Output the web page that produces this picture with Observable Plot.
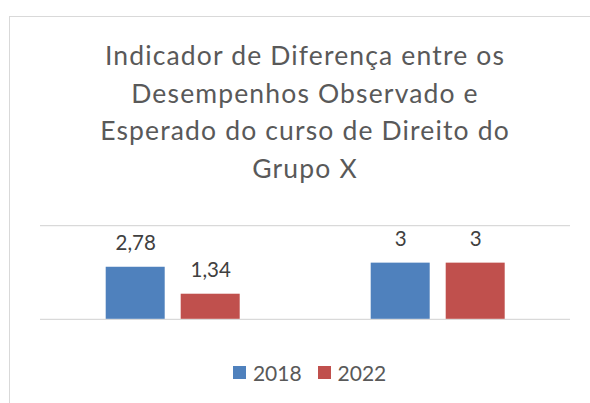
<!DOCTYPE html>
<html>
<head>
<meta charset="utf-8">
<script src="https://cdn.jsdelivr.net/npm/d3@7"></script>
<script src="https://cdn.jsdelivr.net/npm/@observablehq/plot@0.6"></script>
<style>
  html, body { margin: 0; padding: 0; background: #fff; width: 590px; height: 403px; overflow: hidden; position: relative; }
  #frame { position: absolute; left: 9px; top: 16px; width: 640px; height: 500px; border: 1px solid #d9d9d9; box-sizing: border-box; }
  #title { position: absolute; left: 0; top: 37px; width: 610px; text-align: center; font-family: Lato, sans-serif; font-size: 26.5px; letter-spacing: 1.15px; line-height: 37.5px; color: #595959; white-space: nowrap; }
  #chart { position: absolute; left: 0; top: 200px; width: 610px; height: 130px; }
  #chart svg { max-width: none !important; }
  #legend { position: absolute; left: 233px; top: 360.5px; display: flex; align-items: center; font-family: Lato, sans-serif; font-size: 21px; line-height: 24px; color: #595959; }
  .item { display: flex; align-items: center; margin-right: 16px; }
  .sw { width: 13.3px; height: 13.3px; margin-right: 6.6px; }
</style>
</head>
<body>
<div id="frame"></div>
<div id="title"></div>
<div id="chart"></div>
<div id="legend"></div>
<script>
const titleLines = ["Indicador de Diferença entre os", "Desempenhos Observado e", "Esperado do curso de Direito do", "Grupo X"];
const groups = ["Categoria 1", "Categoria 2"];
const years = ["2018", "2022"];
const values2018 = [2.78, 3];
const values2022 = [1.34, 3];
const yTicks = [0, 5];
const colors = ["#4F81BD", "#C0504D"];

const seriesValues = [values2018, values2022];
const data = [];
groups.forEach((g, i) => {
  years.forEach((yr, j) => {
    data.push({group: g, year: yr, value: seriesValues[j][i]});
  });
});

document.getElementById("title").innerHTML = titleLines.join("<br>");

const fmt = v => String(v).replace(".", ",");

const chart = Plot.plot({
  width: 610,
  height: 130,
  marginLeft: 39.3,
  marginRight: 39.3,
  marginTop: 25.2,
  marginBottom: 11.2,
  style: {fontFamily: "Lato, sans-serif", background: "transparent", overflow: "visible", maxWidth: "none"},
  fx: {domain: groups, padding: 0, axis: null, label: null},
  x: {domain: years, paddingInner: 0.2145, paddingOuter: 0.855, axis: null, label: null},
  y: {domain: [0, 5], axis: null, label: null},
  color: {domain: years, range: colors},
  marks: [
    Plot.ruleY(yTicks, {stroke: "#d9d9d9", strokeWidth: 1.2}),
    Plot.barY(data, {fx: "group", x: "year", y: "value", fill: "year"}),
    Plot.text(data, {fx: "group", x: "year", y: "value", text: d => fmt(d.value), lineAnchor: "bottom", dy: -17.3, fontSize: 20.5, fill: "#404040"})
  ]
});
document.getElementById("chart").appendChild(chart);

const legend = d3.select("#legend");
years.forEach((yr, j) => {
  const it = legend.append("div").attr("class", "item");
  it.append("div").attr("class", "sw").style("background", colors[j]);
  it.append("span").text(yr);
});
</script>
</body>
</html>
